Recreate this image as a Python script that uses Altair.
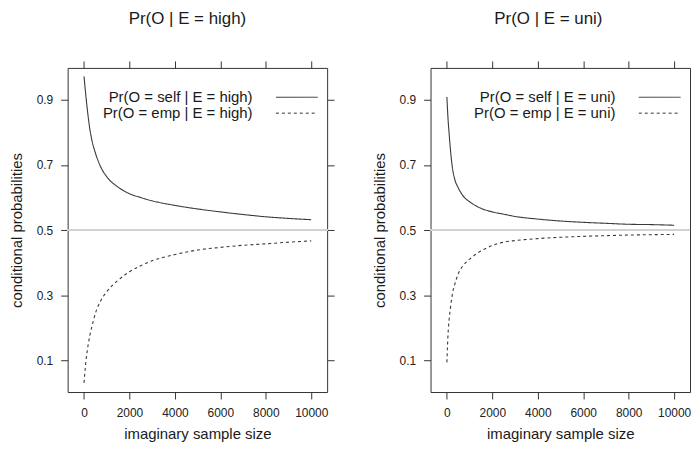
import altair as alt
import pandas as pd

# imaginary sample size grid
n_values = [0, 50, 100, 150, 250, 350, 500, 750, 1000, 1500, 2000, 2500,
            3000, 4000, 5000, 6000, 7000, 8000, 9000, 10000]

# E = high panel
high_self = [0.972, 0.935, 0.900, 0.868, 0.813, 0.775, 0.737, 0.692, 0.664,
             0.632, 0.612, 0.600, 0.590, 0.576, 0.565, 0.556, 0.548, 0.541,
             0.536, 0.532]
high_emp = [0.031, 0.073, 0.108, 0.133, 0.175, 0.205, 0.244, 0.285, 0.311,
            0.346, 0.372, 0.391, 0.406, 0.425, 0.439, 0.447, 0.4535, 0.458,
            0.463, 0.467]

# E = uni panel
uni_self = [0.909, 0.842, 0.795, 0.752, 0.688, 0.655, 0.630, 0.602, 0.587,
            0.567, 0.556, 0.549, 0.542, 0.534, 0.528, 0.524, 0.521, 0.518,
            0.517, 0.515]
uni_emp = [0.094, 0.180, 0.226, 0.258, 0.307, 0.334, 0.366, 0.394, 0.411,
           0.436, 0.453, 0.463, 0.468, 0.474, 0.478, 0.481, 0.483, 0.485,
           0.486, 0.487]

x_ticks = [0, 2000, 4000, 6000, 8000, 10000]
y_ticks = [0.1, 0.3, 0.5, 0.7, 0.9]
x_domain = [-720, 10700]
y_domain = [0.003, 0.998]

FONT = "Liberation Sans"
INK = "#333333"
TXT = "#1a1a1a"


def legend(y):
    return alt.Legend(
        title=None, orient="none", legendX=209, legendY=y,
        symbolType="stroke", symbolSize=1764, symbolStrokeWidth=1,
        symbolStrokeColor=INK, labelFont=FONT, labelFontSize=15,
        labelColor=TXT, labelAlign="right", labelOffset={"expr": "-66"},
        padding=0, labelLimit=400,
    )


def panel(title, self_label, emp_label, self_vals, emp_vals, right_ticks, dx):
    df = pd.DataFrame({
        "n": n_values * 2,
        "p": self_vals + emp_vals,
        "series": [self_label] * len(n_values) + [emp_label] * len(n_values),
    })
    xs = alt.Scale(domain=x_domain, nice=False, zero=False)
    ys = alt.Scale(domain=y_domain, nice=False, zero=False)
    x_axis = alt.Axis(orient="bottom", values=x_ticks, format="d",
                      title="imaginary sample size")
    y_axis = alt.Axis(orient="left", values=y_ticks, format=".1f",
                      title="conditional probabilities")

    ref = alt.Chart(df).mark_rule(color="#d2d2d2", strokeWidth=1.6).encode(
        y=alt.YDatum(0.5, type="quantitative", scale=ys, axis=None)
    )

    def curve(label, dash, ly, axes):
        return alt.Chart(df).transform_filter(
            alt.datum.series == label
        ).mark_line(color="#3a3a3a", strokeWidth=1.1,
                    interpolate="monotone").encode(
            x=alt.X("n:Q", scale=xs, axis=x_axis if axes else None),
            y=alt.Y("p:Q", scale=ys, axis=y_axis if axes else None),
            strokeDash=alt.StrokeDash(
                "series:N",
                scale=alt.Scale(domain=[label], range=[dash]),
                legend=legend(ly),
            ),
        )

    self_line = curve(self_label, [1, 0], 8, True)
    emp_line = curve(emp_label, [3, 3], 24, False)

    tick_y_axis = (alt.Axis(orient="right", values=y_ticks, labels=False,
                            title=None) if right_ticks else None)
    ticks = alt.Chart(df).mark_line(opacity=0).encode(
        x=alt.X("n:Q", scale=xs,
                axis=alt.Axis(orient="top", values=x_ticks, labels=False,
                              title=None)),
        y=alt.Y("p:Q", scale=ys, axis=tick_y_axis),
        detail="series:N",
    )

    return alt.layer(ref, self_line, emp_line, ticks).resolve_axis(
        x="independent", y="independent"
    ).resolve_scale(strokeDash="independent").resolve_legend(
        strokeDash="independent"
    ).properties(
        width=261, height=326,
        title=alt.Title(title, fontSize=17, font=FONT, fontWeight="normal",
                        color=TXT, anchor="middle", offset=33, dx=dx),
    )


left = panel("Pr(O | E = high)", "Pr(O = self | E = high)",
             "Pr(O = emp | E = high)", high_self, high_emp, True, -10)
right = panel("Pr(O | E = uni)", "Pr(O = self | E = uni)",
              "Pr(O = emp | E = uni)", uni_self, uni_emp, False, -12)

chart = alt.hconcat(left, right, spacing=36).resolve_scale(
    strokeDash="independent"
).resolve_legend(strokeDash="independent").properties(
    padding={"left": 0, "top": 0, "right": 0, "bottom": 0}
).configure_view(
    stroke=INK, strokeWidth=1
).configure_axis(
    domain=False, grid=False, tickColor=INK, tickSize=7, tickWidth=1,
    labelFont=FONT, labelFontSize=12, labelColor="#222222", labelPadding=8,
    titleFont=FONT, titleFontSize=15, titleFontWeight="normal",
    titleColor=TXT, titlePadding=12,
).configure_axisX(labelPadding=9, titlePadding=8)

chart.save("out.html", embed_options={"renderer": "svg", "actions": False})
